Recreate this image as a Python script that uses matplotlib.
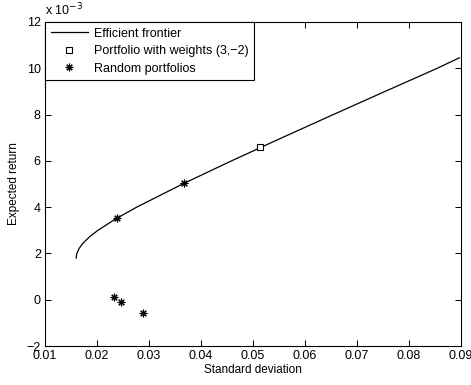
import matplotlib
matplotlib.use("Agg")
import matplotlib.pyplot as plt

plt.rcParams['font.family'] = ['Liberation Sans', 'DejaVu Sans']

# efficient frontier (return in units of 1e-3)
frontier_std = [0.0160, 0.01603, 0.01613, 0.01652, 0.01714, 0.01846, 0.02017,
                0.02364, 0.02763, 0.03646, 0.04588, 0.05559, 0.06546,
                0.07542, 0.08546, 0.0897]
frontier_ret = [1.8, 1.9, 2.0, 2.2, 2.4, 2.7, 3.0, 3.5, 4.0, 5.0, 6.0, 7.0,
                8.0, 9.0, 10.0, 10.45]

weighted_std = [0.0514]
weighted_ret = [6.61]

random_std = [0.0238, 0.0367, 0.0233, 0.0246, 0.0288]
random_ret = [3.52, 5.04, 0.10, -0.09, -0.59]

xticks = [0.01, 0.02, 0.03, 0.04, 0.05, 0.06, 0.07, 0.08, 0.09]
yticks = [-2, 0, 2, 4, 6, 8, 10, 12]

fig = plt.figure(figsize=(4.71, 3.85), dpi=100)
ax = fig.add_axes([0.0955, 0.101, 0.883, 0.842])

ax.plot(frontier_std, frontier_ret, '-', color='black', lw=0.9,
        label='Efficient frontier')
ax.plot(weighted_std, weighted_ret, 's', color='black', mfc='white',
        ms=4.5, mew=0.8, label='Portfolio with weights (3,\u22122)')
ax.plot(random_std, random_ret, ls='none', marker=(8, 2, 0), color='black',
        ms=5.5, mew=0.8, label='Random portfolios')

ax.set_xlim(0.01, 0.09)
ax.set_ylim(-2, 12)
ax.set_xticks(xticks)
ax.set_xticklabels(['%g' % t for t in xticks])
ax.set_yticks(yticks)
ax.set_yticklabels(['\u22122' if t == -2 else str(t) for t in yticks])
ax.tick_params(direction='in', top=True, right=True, labelsize=9,
               length=4, width=0.7, pad=3)
for s in ax.spines.values():
    s.set_linewidth(0.8)

ax.set_xlabel('Standard deviation', fontsize=8.5, labelpad=1)
ax.set_ylabel('Expected return', fontsize=8.5, labelpad=5)
ax.text(0.0, 1.01, 'x 10$^{-3}$', transform=ax.transAxes, fontsize=9,
        ha='left', va='bottom')

leg = ax.legend(loc='upper left', borderaxespad=0, fontsize=9,
                fancybox=False, edgecolor='black', framealpha=1,
                handlelength=3.0, handletextpad=0.45, borderpad=0.45,
                labelspacing=0.45)
leg.get_frame().set_linewidth(0.8)

fig.savefig('out.png', dpi=100)
